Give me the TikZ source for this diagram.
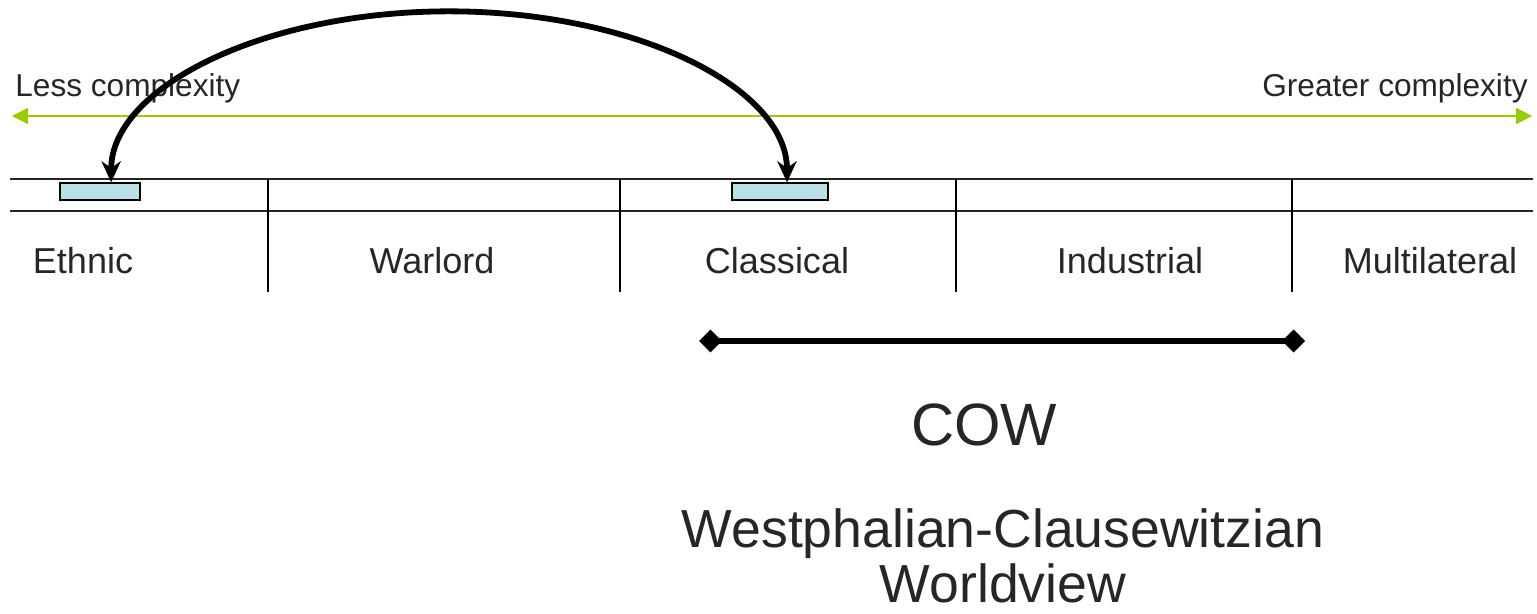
\documentclass[tikz,border=0pt]{standalone}
\usepackage{fontspec}
\setmainfont{Liberation Sans}
\usetikzlibrary{arrows.meta}
\definecolor{axisgreen}{RGB}{153,204,0}
\definecolor{boxblue}{RGB}{185,224,228}
\definecolor{txtgray}{RGB}{38,38,38}
\begin{document}
\begin{tikzpicture}[x=0.02cm,y=-0.02cm,every node/.style={text=txtgray,inner sep=0pt},
		hint/.style={font=\fontsize{18}{21}\selectfont},
		era/.style={anchor=base,font=\fontsize{20.5}{24}\selectfont},
		marker/.style={draw=black,fill=boxblue,line width=0.8pt,minimum height=0.34cm}]
	\useasboundingbox (0,0) rectangle (1537,613);
	% complexity axis
	\node[hint,anchor=base west] (lessTxt) at (15,96) {Less complexity};
	\node[hint,anchor=base east] (moreTxt) at (1528,96) {Greater complexity};
	\coordinate (axL) at (12,116);
	\coordinate (axR) at (1532,116);
	\draw[axisgreen,line width=1pt,{Triangle[length=9pt,width=9pt]}-{Triangle[length=9pt,width=9pt]}] (axL) -- (axR);
	% eras table
	\draw[line width=1pt,black!85] (10,179) -- (1533,179) (10,211) -- (1533,211);
	\foreach \x in {268,620,956,1292}
		\draw[line width=1pt] (\x,179) -- (\x,292);
	\node[era] (ethnic) at (83,273) {Ethnic};
	\node[era] (warlord) at (432,273) {Warlord};
	\node[era] (classical) at (777,273) {Classical};
	\node[era] (industrial) at (1130,273) {Industrial};
	\node[era] (multilat) at (1430,273) {Multilateral};
	\node[marker,minimum width=1.6cm] (ethBox) at (100,191.5) {};
	\node[marker,minimum width=1.92cm] (clsBox) at (780,191.5) {};
	\draw[line width=3.3pt,{Stealth[length=12pt,width=11pt]}-{Stealth[length=12pt,width=11pt]}]
		([xshift=0.14cm]clsBox.north) arc[start angle=0,end angle=180,x radius=6.76cm,y radius=3.42cm];
	% COW span
	\coordinate (cowL) at (699,341);
	\coordinate (cowR) at (1305,341);
	\draw[line width=3.5pt,{Diamond[length=13pt,width=13pt]}-{Diamond[length=13pt,width=13pt]}] (cowL) -- (cowR);
	\node[anchor=base,font=\fontsize{34}{40}\selectfont] (cow) at (984,445) {COW};
	\node[anchor=base,align=center,font=\fontsize{30.5}{31.3}\selectfont] (worldview) at (1003,602) {Westphalian-Clausewitzian\\Worldview};
\end{tikzpicture}
\end{document}
